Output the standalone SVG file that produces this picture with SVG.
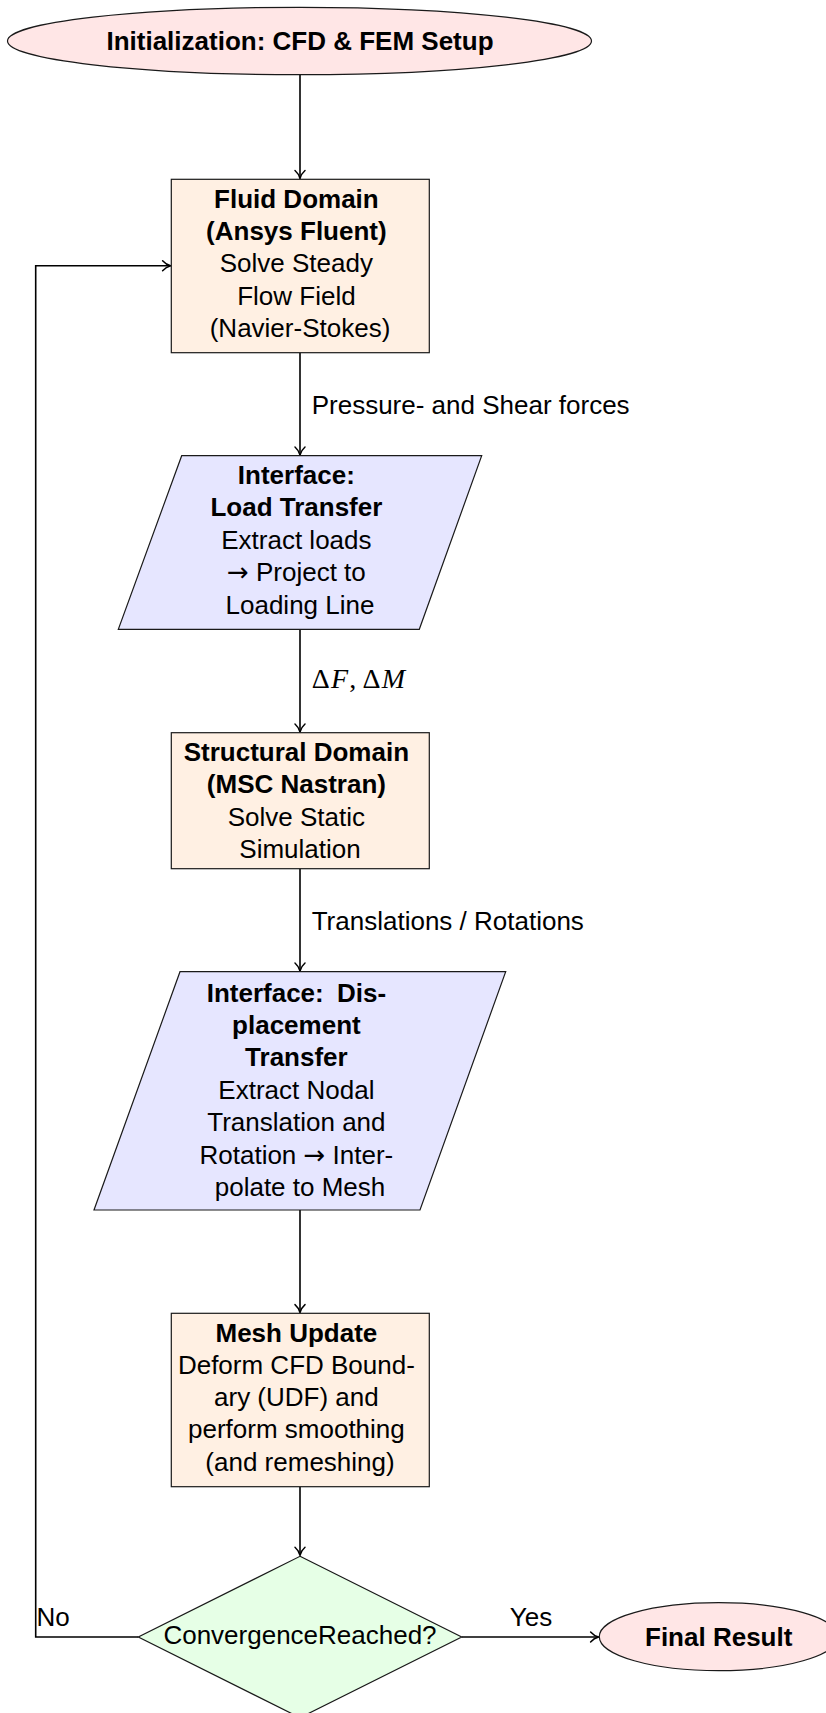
<svg xmlns="http://www.w3.org/2000/svg" width="826" height="1713" viewBox="0 0 826 1713">
  <style>
    .node { stroke: #1a1a1a; stroke-width: 1.2; }
    .term { fill: #FFE6E6; }
    .proc { fill: #FFF0E3; }
    .io { fill: #E6E6FF; }
    .dec { fill: #E6FFE6; }
    text { font-family: "Liberation Sans", Arial, sans-serif; font-size: 26px; fill: #000; }
    .c { text-anchor: middle; }
    .b { font-weight: bold; }
    .math { font-family: "Liberation Serif", "Times New Roman", serif; font-size: 28px; letter-spacing: 1.2px; }
    .arr { font-family: "DejaVu Sans", sans-serif; }
    .edge { fill: none; stroke: #000; stroke-width: 1.6; }
  </style>
  <defs>
    <marker id="tip" markerUnits="userSpaceOnUse" viewBox="-10 -7 11 14" markerWidth="11" markerHeight="14" refX="0" refY="0" orient="auto" overflow="visible">
      <path d="M-8,-5 C-5.5,-2.2 -2.5,-0.6 0,0 C-2.5,0.6 -5.5,2.2 -8,5" fill="none" stroke="#000" stroke-width="1.5" stroke-linecap="round" stroke-linejoin="round"/>
    </marker>
  </defs>

  <!-- connectors -->
  <g id="connectors">
    <path class="edge" d="M300,75 V178.5" marker-end="url(#tip)"/>
    <path class="edge" d="M300,352.7 V455" marker-end="url(#tip)"/>
    <path class="edge" d="M300,629.3 V732" marker-end="url(#tip)"/>
    <path class="edge" d="M300,868.7 V971" marker-end="url(#tip)"/>
    <path class="edge" d="M300,1210 V1312.6" marker-end="url(#tip)"/>
    <path class="edge" d="M300,1486.7 V1555.3" marker-end="url(#tip)"/>
    <path class="edge" d="M461.7,1637 H598.6" marker-end="url(#tip)"/>
    <path class="edge" d="M138.3,1637 H35.7 V265.7 H170.6" marker-end="url(#tip)"/>
    <text x="311.7" y="413.5">Pressure- and Shear forces</text>
    <text class="math" x="311.7" y="688.3">Δ<tspan font-style="italic">F</tspan>,<tspan dx="5">Δ</tspan><tspan font-style="italic">M</tspan></text>
    <text x="311.7" y="930">Translations / Rotations</text>
    <text x="36.5" y="1626">No</text>
    <text class="c" x="531" y="1626">Yes</text>
  </g>

  <!-- start -->
  <g id="init">
    <ellipse class="node term" cx="299.5" cy="41" rx="292" ry="33.7"/>
    <text class="c b" x="300" y="50">Initialization: CFD &amp; FEM Setup</text>
  </g>

  <!-- flow solver -->
  <g id="fluid">
    <rect class="node proc" x="171.3" y="179.3" width="258" height="173.4"/>
    <text class="c" x="300">
      <tspan class="b" x="300" y="207.5">Fluid Domain</tspan>
      <tspan class="b" x="300" y="240">(Ansys Fluent)</tspan>
      <tspan x="300" y="272">Solve Steady</tspan>
      <tspan x="300" y="304.5">Flow Field</tspan>
      <tspan x="300" y="337">(Navier-Stokes)</tspan>
    </text>
  </g>

  <!-- load mapping -->
  <g id="load-transfer">
    <polygon class="node io" points="181.7,455.7 481.7,455.7 419.3,629.3 118.3,629.3"/>
    <text class="c">
      <tspan class="b" x="300" y="483.5">Interface:</tspan>
      <tspan class="b" x="300" y="516">Load Transfer</tspan>
      <tspan x="300" y="548.5">Extract loads</tspan>
      <tspan x="300" y="581"><tspan class="arr">→</tspan> Project to</tspan>
      <tspan x="300" y="613.5">Loading Line</tspan>
    </text>
  </g>

  <!-- structural solver -->
  <g id="structural">
    <rect class="node proc" x="171.3" y="732.7" width="258" height="136"/>
    <text class="c">
      <tspan class="b" x="300" y="761">Structural Domain</tspan>
      <tspan class="b" x="300" y="793">(MSC Nastran)</tspan>
      <tspan x="300" y="825.5">Solve Static</tspan>
      <tspan x="300" y="858">Simulation</tspan>
    </text>
  </g>

  <!-- displacement mapping -->
  <g id="displacement-transfer">
    <polygon class="node io" points="180,971.7 505.7,971.7 420,1210 94,1210"/>
    <text class="c">
      <tspan class="b" x="300" y="1001.5">Interface: <tspan dx="6">Dis-</tspan></tspan>
      <tspan class="b" x="300" y="1034">placement</tspan>
      <tspan class="b" x="300" y="1066">Transfer</tspan>
      <tspan x="300" y="1098.5">Extract Nodal</tspan>
      <tspan x="300" y="1131">Translation and</tspan>
      <tspan x="300" y="1163.5">Rotation <tspan class="arr">→</tspan> Inter-</tspan>
      <tspan x="300" y="1196">polate to Mesh</tspan>
    </text>
  </g>

  <!-- mesh morphing -->
  <g id="mesh-update">
    <rect class="node proc" x="171.3" y="1313.3" width="258" height="173.4"/>
    <text class="c">
      <tspan class="b" x="300" y="1341.5">Mesh Update</tspan>
      <tspan x="300" y="1373.5">Deform CFD Bound-</tspan>
      <tspan x="300" y="1406">ary (UDF) and</tspan>
      <tspan x="300" y="1438">perform smoothing</tspan>
      <tspan x="300" y="1470.5">(and remeshing)</tspan>
    </text>
  </g>

  <!-- convergence check -->
  <g id="convergence">
    <polygon class="node dec" points="300,1556.3 461.7,1637 300,1717.7 138.3,1637"/>
    <text class="c" x="300" y="1643.5">ConvergenceReached?</text>
  </g>

  <!-- end -->
  <g id="final">
    <ellipse class="node term" cx="718.7" cy="1636.7" rx="119.4" ry="34"/>
    <text class="c b" x="718.7" y="1646">Final Result</text>
  </g>
</svg>
